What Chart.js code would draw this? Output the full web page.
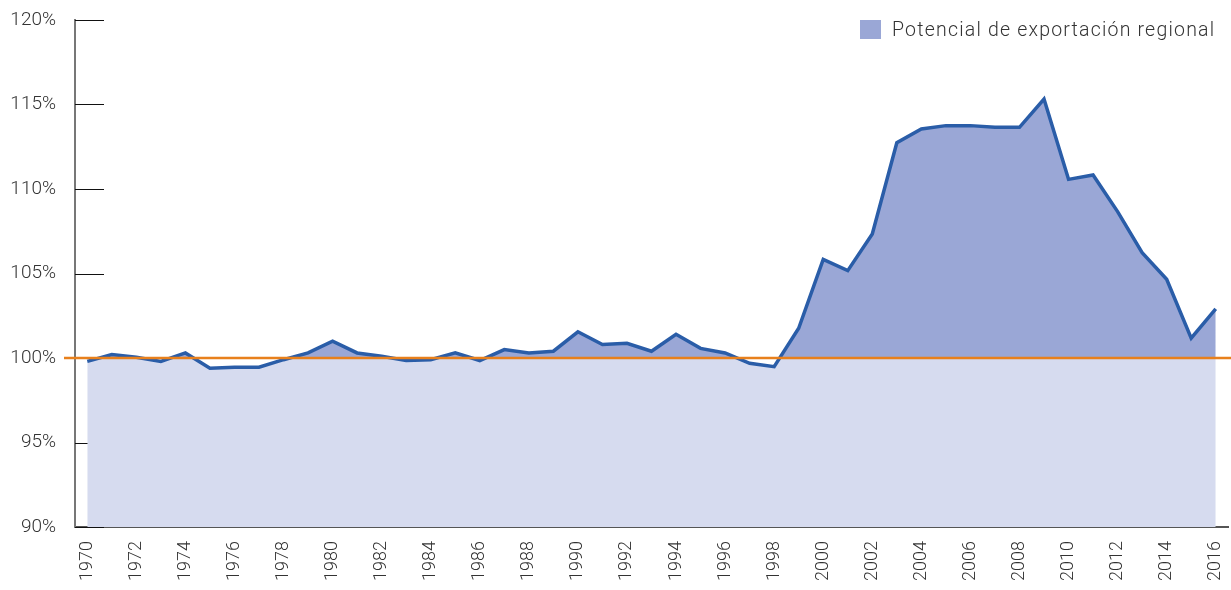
<!DOCTYPE html>
<html>
<head>
<meta charset="utf-8">
<script src="https://cdn.jsdelivr.net/npm/chart.js@4.4.1/dist/chart.umd.min.js"></script>
<style>
  html, body { margin: 0; padding: 0; background: #fff; }
  #wrap { width: 1231px; height: 590px; position: relative; }
  #leyenda {
    position: absolute; left: 860px; top: 17px; height: 24px;
    display: flex; align-items: center;
    font-family: Roboto, 'DejaVu Sans', sans-serif; font-weight: 300;
    font-size: 19.5px; letter-spacing: 1.2px; color: #333; white-space: nowrap;
  }
  #leyenda .caja { width: 21px; height: 19px; background: #9aa7d6; margin-right: 11px; }
</style>
</head>
<body>
<div id="wrap">
  <canvas id="chart"></canvas>
  <div id="leyenda"><span class="caja"></span><span id="leyendaTxt"></span></div>
</div>
<script>
// --- Datos ---
const years = [
  "1970", "1971", "1972", "1973", "1974", "1975", "1976", "1977", "1978", "1979",
  "1980", "1981", "1982", "1983", "1984", "1985", "1986", "1987", "1988", "1989",
  "1990", "1991", "1992", "1993", "1994", "1995", "1996", "1997", "1998", "1999",
  "2000", "2001", "2002", "2003", "2004", "2005", "2006", "2007", "2008", "2009",
  "2010", "2011", "2012", "2013", "2014", "2015", "2016"
];
const potencial = [
  99.8, 100.2, 100.05, 99.8, 100.3, 99.4, 99.45, 99.45, 99.9, 100.3,
  101.0, 100.3, 100.1, 99.85, 99.9, 100.3, 99.85, 100.5, 100.3, 100.4,
  101.55, 100.8, 100.87, 100.4, 101.4, 100.57, 100.3, 99.69, 99.49, 101.76,
  105.84, 105.17, 107.34, 112.74, 113.55, 113.75, 113.75, 113.65, 113.65, 115.32,
  110.57, 110.83, 108.66, 106.23, 104.66, 101.17, 102.9
];
const yTicks = [90, 95, 100, 105, 110, 115, 120];
const referencia = 100;
const serieLabel = "Potencial de exportación regional";

const azulLinea = "#2a5da8";
const azulOscuro = "#9aa7d6";
const azulClaro = "#d6dbef";
const naranja = "#e8801c";

document.getElementById("leyendaTxt").textContent = serieLabel;

// marcas del eje Y hacia dentro (debajo del relleno)
const innerTicks = {
  id: "innerTicks",
  beforeDatasetsDraw(chart) {
    const { ctx, chartArea, scales } = chart;
    ctx.save();
    ctx.strokeStyle = "#111";
    ctx.lineWidth = 1;
    yTicks.forEach(v => {
      const y = Math.round(scales.y.getPixelForValue(v)) + 0.5;
      ctx.beginPath();
      ctx.moveTo(chartArea.left, y);
      ctx.lineTo(chartArea.left + 29, y);
      ctx.stroke();
    });
    ctx.restore();
  }
};

// línea naranja del 100%
const lineaRef = {
  id: "lineaRef",
  afterDatasetsDraw(chart) {
    const { ctx, chartArea, scales } = chart;
    const y = scales.y.getPixelForValue(referencia);
    ctx.save();
    ctx.strokeStyle = naranja;
    ctx.lineWidth = 2.5;
    ctx.beginPath();
    ctx.moveTo(chartArea.left - 11, y);
    ctx.lineTo(chartArea.right + 3, y);
    ctx.stroke();
    ctx.restore();
  }
};

const fontFam = "Roboto, 'DejaVu Sans', sans-serif";

new Chart(document.getElementById("chart"), {
  type: "line",
  data: {
    labels: years,
    datasets: [
      {
        label: serieLabel,
        data: potencial,
        borderColor: azulLinea,
        borderWidth: 3.5,
        backgroundColor: azulOscuro,
        pointRadius: 0,
        tension: 0,
        fill: { target: { value: referencia }, above: azulOscuro, below: "rgba(0,0,0,0)" }
      },
      {
        label: "base",
        data: potencial,
        borderWidth: 0,
        borderColor: "rgba(0,0,0,0)",
        backgroundColor: azulClaro,
        pointRadius: 0,
        tension: 0,
        fill: "start"
      }
    ]
  },
  options: {
    responsive: true,
    maintainAspectRatio: false,
    animation: false,
    layout: { padding: { top: 20, right: 3, left: 0, bottom: 0 } },
    plugins: {
      tooltip: { enabled: false },
      legend: { display: false }
    },
    scales: {
      x: {
        type: "category",
        offset: true,
        grid: { display: false, drawTicks: false },
        border: { color: "#555", width: 2 },
        ticks: {
          autoSkip: false,
          minRotation: 90,
          maxRotation: 90,
          padding: 14,
          color: "#333",
          font: { family: fontFam, size: 18, weight: 300 },
          callback: function (val, i) {
            const y = this.getLabelForValue(val);
            return Number(y) % 2 === 0 ? y : "";
          }
        },
        afterFit: s => { s.height = 63; s.paddingLeft = 0; s.paddingRight = 0; }
      },
      y: {
        min: 90,
        max: 120,
        grid: { drawOnChartArea: false, drawTicks: false },
        border: { color: "#777", width: 2 },
        ticks: {
          stepSize: 5,
          padding: 19,
          color: "#333",
          font: { family: fontFam, size: 19, weight: 300 },
          callback: v => v + "%"
        },
        afterFit: s => { s.width = 75; s.paddingTop = 0; s.paddingBottom = 0; }
      }
    }
  },
  plugins: [innerTicks, lineaRef]
});
</script>
</body>
</html>
